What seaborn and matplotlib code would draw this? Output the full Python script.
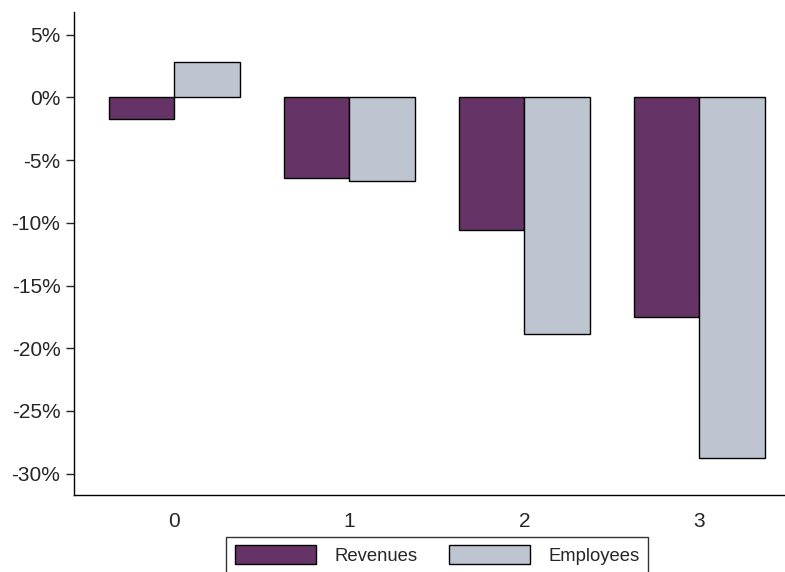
import numpy as np
import pandas as pd
import matplotlib
matplotlib.use("Agg")
import matplotlib.pyplot as plt
import seaborn as sns
from matplotlib.ticker import FuncFormatter

# datos
grupos = ["0", "1", "2", "3"]
revenues = [-1.7, -6.4, -10.6, -17.5]
employees = [2.8, -6.7, -18.9, -28.75]
series = ["Revenues", "Employees"]
colores = ["#663366", "#bec4d0"]

df = pd.DataFrame({
    "grupo": grupos * 2,
    "serie": [series[0]] * 4 + [series[1]] * 4,
    "valor": revenues + employees,
})

sns.set_style("ticks")
plt.rcParams["font.family"] = ["Liberation Sans", "DejaVu Sans"]

fig = plt.figure(figsize=(7.85, 5.72), dpi=100)
ax = fig.add_axes([0.0947, 0.1346, 0.9053, 0.8444])

sns.barplot(data=df, x="grupo", y="valor", hue="serie", palette=colores,
            width=0.75, edgecolor="black", linewidth=1, saturation=1, ax=ax)

ax.set_ylim(-31.7, 6.8)
ax.set_xlim(-0.571, 3.49)
ax.set_yticks([5, 0, -5, -10, -15, -20, -25, -30])
ax.yaxis.set_major_formatter(FuncFormatter(lambda v, p: f"{v:.0f}%"))
ax.tick_params(axis="y", length=6, width=1, labelsize=15, pad=4)
ax.tick_params(axis="x", length=0, labelsize=15, pad=12)
ax.set_xlabel("")
ax.set_ylabel("")
sns.despine(ax=ax)
for s in ["left", "bottom"]:
    ax.spines[s].set_linewidth(1)
    ax.spines[s].set_color("black")

ax.legend_.remove()
handles, labels = ax.get_legend_handles_labels()
leg = fig.legend(handles, labels, loc="upper center", bbox_to_anchor=(0.557, 0.0612),
                 ncol=2, fontsize=13.3, frameon=True, fancybox=False,
                 edgecolor="black", handlelength=4.4, handleheight=1.2,
                 handletextpad=1.0, columnspacing=1.7, borderpad=0.45,
                 borderaxespad=0)
leg.get_frame().set_linewidth(1)

fig.savefig("out.png", dpi=100)
